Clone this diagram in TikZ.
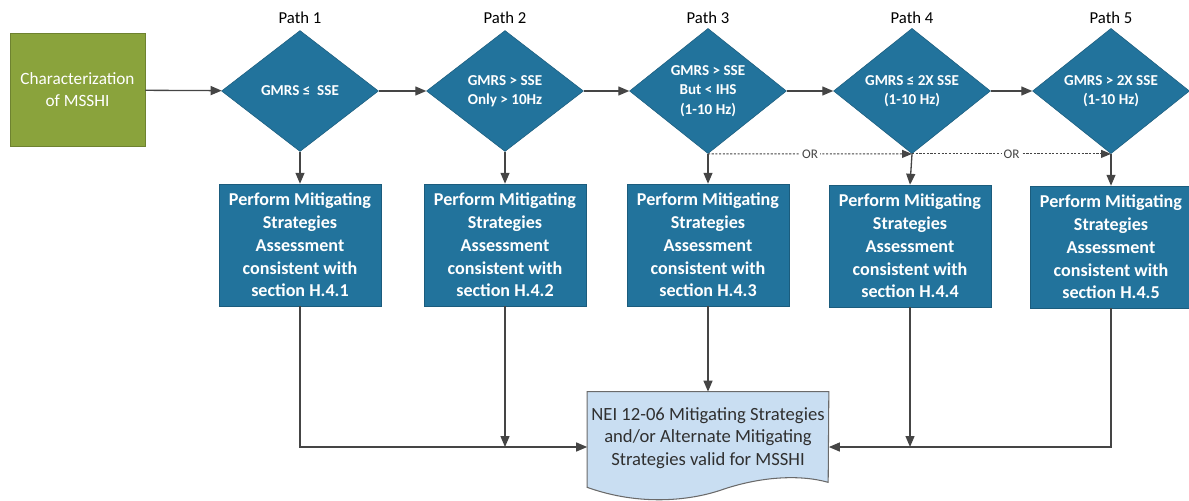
\documentclass[tikz,border=0pt]{standalone}
\usepackage{fontspec}
\setmainfont{Carlito}
\usetikzlibrary{shapes.geometric,arrows.meta,calc}
\pgfdeclarelayer{background}
\pgfsetlayers{background,main}
\definecolor{leafgreen}{HTML}{8AA33C}
\definecolor{steelb}{HTML}{22739C}
\definecolor{paleblue}{HTML}{C9DEF2}
\definecolor{linegray}{HTML}{454545}
\definecolor{doctext}{HTML}{303030}
\begin{document}
\begin{tikzpicture}[x=0.02cm,y=-0.02cm,
  conn/.style={draw=linegray, line width=0.75pt, -{Triangle[length=2.2mm,width=1.8mm]}},
  orline/.style={draw=linegray, line width=0.6pt, dash pattern=on 1.2pt off 0.9pt, -{Triangle[length=2mm,width=1.6mm]}},
  orlbl/.style={fill=white, inner sep=1pt, text=linegray, font=\fontsize{7.5}{8}\selectfont},
  decision/.style={diamond, fill=steelb, draw=steelb!80!black, line width=0.3pt,
    minimum width=3.14cm, minimum height=2.42cm, inner sep=0pt, text=white,
    font=\fontsize{8.6}{11}\selectfont\bfseries, align=center},
  task/.style={rectangle, fill=steelb, draw=steelb!80!black, line width=0.3pt,
    minimum width=3.24cm, minimum height=2.44cm, text=white,
    font=\fontsize{10.3}{13}\selectfont\bfseries, align=center},
  start/.style={rectangle, fill=leafgreen, draw=leafgreen!80!black, line width=0.3pt,
    minimum width=2.7cm, minimum height=2.26cm, text=white,
    font=\fontsize{9.8}{12.5}\selectfont, align=center},
  pathlbl/.style={font=\fontsize{9.5}{11}\selectfont, text=black},
  docnode/.style={rectangle, minimum width=4.82cm, minimum height=1.84cm, inner sep=0pt,
    text=doctext, font=\fontsize{10.6}{13}\selectfont, align=center},
  docshape/.style={fill=paleblue, draw=linegray!80, line width=0.6pt}]
\useasboundingbox (0,0) rectangle (1189,500);

% start box
\node[start] (mss) at (77.5,90) {Characterization\\of MSSHI};

% path headings
\node[pathlbl] (p1) at (300,18) {Path 1};
\node[pathlbl] (p2) at (505,18) {Path 2};
\node[pathlbl] (p3) at (708,18) {Path 3};
\node[pathlbl] (p4) at (912,18) {Path 4};
\node[pathlbl] (p5) at (1111,18) {Path 5};

% decisions
\node[decision] (d1) at (300,91) {GMRS ≤\ \ SSE};
\node[decision] (d2) at (505,91) {GMRS > SSE\\Only > 10Hz};
\node[decision] (d3) at (708,91) {GMRS > SSE\\But < IHS\\(1-10 Hz)};
\node[decision] (d4) at (912,91) {GMRS ≤ 2X SSE\\(1-10 Hz)};
\node[decision] (d5) at (1111,91) {GMRS > 2X SSE\\(1-10 Hz)};

% assessments
\node[task] (b1) at (300,245) {Perform Mitigating\\Strategies\\Assessment\\consistent with\\section H.4.1};
\node[task] (b2) at (505,245) {Perform Mitigating\\Strategies\\Assessment\\consistent with\\section H.4.2};
\node[task] (b3) at (708,245) {Perform Mitigating\\Strategies\\Assessment\\consistent with\\section H.4.3};
\node[task] (b4) at (910,246) {Perform Mitigating\\Strategies\\Assessment\\consistent with\\section H.4.4};
\node[task] (b5) at (1111,247) {Perform Mitigating\\Strategies\\Assessment\\consistent with\\section H.4.5};

% final document
\node[docnode] (doc) at (708,438) {NEI 12-06 Mitigating Strategies\\and/or Alternate Mitigating\\Strategies valid for MSSHI};
\begin{pgfonlayer}{background}
\path[docshape] ($(doc.south west)+(0,3)$) -- (doc.north west) -- (doc.north east)
  -- ($(doc.south west)+(241,-2)$)
  .. controls ($(doc.south west)+(213,-10)$) and ($(doc.south west)+(173,-8)$) .. ($(doc.south west)+(133,6)$)
  .. controls ($(doc.south west)+(103,16)$) and ($(doc.south west)+(53,22)$) .. cycle;
\end{pgfonlayer}
\coordinate (dl) at ($(doc.west)+(0,9)$);
\coordinate (dr) at ($(doc.east)+(0,9)$);

% main chain
\draw[conn] (mss) -- (d1);
\draw[conn] (d1) -- (d2);
\draw[conn] (d2) -- (d3);
\draw[conn] (d3) -- (d4);
\draw[conn] (d4) -- (d5);

% decision to assessment
\draw[conn] (d1.south) -- (b1.north);
\draw[conn] (d2.south) -- (b2.north);
\draw[conn] (d3.south) -- (b3.north);
\draw[conn] (d4.south) -- (b4.north);
\draw[conn] (d5.south) -- (b5.north);

% alternative paths
\draw[orline] (d3.south) -- node[orlbl] {OR} (d4.south);
\draw[orline] (d4.south) -- node[orlbl] {OR} (d5.south);

% assessments to document
\draw[conn] (b1.south) |- (dl);
\draw[conn] (b2.south) -- (b2.south |- dl);
\draw[conn] (b3.south) -- (doc.north);
\draw[conn] (b4.south) -- (b4.south |- dr);
\draw[conn] (b5.south) |- (dr);
\end{tikzpicture}
\end{document}
